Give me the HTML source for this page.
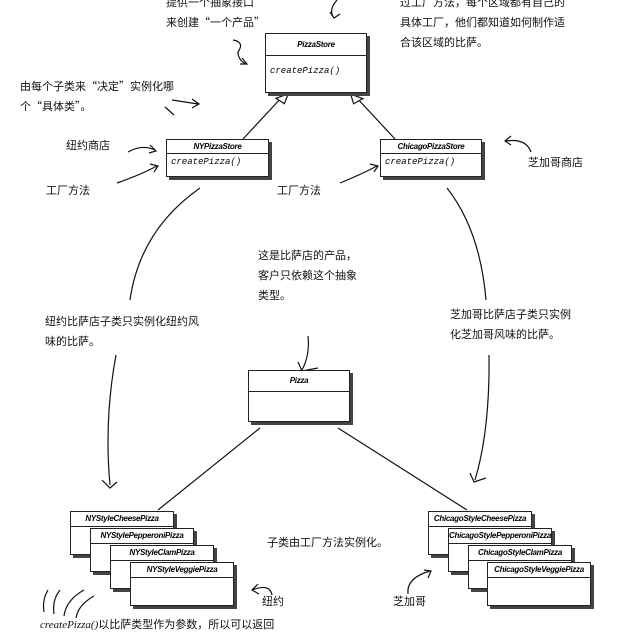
<!DOCTYPE html>
<html><head><meta charset="utf-8"><style>
body{margin:0;background:#fff;width:627px;height:633px;overflow:hidden;position:relative;font-family:"Liberation Sans","WenQuanYi Zen Hei",sans-serif}
.t{position:absolute;font-size:11px;line-height:20px;color:#111;font-family:"WenQuanYi Zen Hei","Noto Sans CJK SC",sans-serif;white-space:nowrap}
.b{position:absolute;background:#fff;border:1px solid #222;box-shadow:3px 3px 0 #444}
.h{border-bottom:1px solid #222;font:bold italic 8px "Liberation Sans",sans-serif;text-align:center;letter-spacing:-0.3px}
.m{font:italic 9px "Liberation Mono",monospace;padding:3px 4px}
</style></head><body>
<svg width="627" height="633" style="position:absolute;left:0;top:0" fill="none" stroke="#111" stroke-width="1.2">
<line x1="243" y1="139" x2="283" y2="96"/><line x1="395" y1="139" x2="355" y2="96"/>
<polygon points="277,96 290,96 283,104" fill="#fff" transform="rotate(-20 283 100)"/>
<polygon points="349,96 362,96 355,104" fill="#fff" transform="rotate(20 355 100)"/>
<line x1="158" y1="510" x2="260" y2="428"/><line x1="467" y1="510" x2="338" y2="428"/>
<path d="M200,188 Q140,230 130,300"/><path d="M116,355 Q104,420 110,485 M102,480 L110,488 L117,482"/>
<path d="M447,188 Q480,230 486,300"/><path d="M489,355 Q490,430 475,480 M470,473 L474,482 L486,478"/>
<path d="M233,40 Q245,42 238,52 Q238,60 246,64 M242,58 L247,64 L240,64"/>
<path d="M337,0 Q328,10 334,18 M330,12 L334,18 L340,14"/>
<path d="M172,100 L198,104 M192,99 L199,104 L192,108 M165,107 L174,115"/>
<path d="M128,152 Q142,144 155,150 M150,145 L156,151 L149,153"/>
<path d="M117,183 Q140,175 157,166 M150,164 L158,166 L154,172"/>
<path d="M340,183 Q360,175 377,166 M370,164 L378,166 L374,172"/>
<path d="M531,152 Q526,138 506,141 M511,136 L505,141 L511,145"/>
<path d="M308,336 Q310,355 302,370 M298,362 L302,371 L318,368"/>
<path d="M272,595 Q270,583 252,590 M258,584 L252,590 L259,594"/>
<path d="M408,594 Q406,578 430,571 M424,570 L431,571 L428,578"/>
<path d="M44,612 Q42,600 48,590 M54,614 Q52,600 60,590 M64,616 Q66,600 84,590 M76,618 Q78,605 94,596"/>
</svg>
<div class="b" style="left:265px;top:33px;width:100px;height:58px"><div class="h" style="height:21px;line-height:21px">PizzaStore</div><div class="m" style="padding-top:10px">createPizza()</div></div>
<div class="b" style="left:166px;top:139px;width:101px;height:36px"><div class="h" style="height:13px;line-height:13px">NYPizzaStore</div><div class="m">createPizza()</div></div>
<div class="b" style="left:380px;top:139px;width:100px;height:36px"><div class="h" style="height:13px;line-height:13px">ChicagoPizzaStore</div><div class="m">createPizza()</div></div>
<div class="b" style="left:248px;top:370px;width:100px;height:50px"><div class="h" style="height:20px;line-height:20px">Pizza</div></div>
<div class="b" style="left:70px;top:511px;width:102px;height:42px"><div class="h" style="height:14px;line-height:14px">NYStyleCheesePizza</div></div>
<div class="b" style="left:90px;top:528px;width:102px;height:42px"><div class="h" style="height:14px;line-height:14px">NYStylePepperoniPizza</div></div>
<div class="b" style="left:110px;top:545px;width:102px;height:42px"><div class="h" style="height:14px;line-height:14px">NYStyleClamPizza</div></div>
<div class="b" style="left:130px;top:562px;width:102px;height:42px"><div class="h" style="height:14px;line-height:14px">NYStyleVeggiePizza</div></div>
<div class="b" style="left:428px;top:511px;width:102px;height:42px"><div class="h" style="height:14px;line-height:14px">ChicagoStyleCheesePizza</div></div>
<div class="b" style="left:448px;top:528px;width:102px;height:42px"><div class="h" style="height:14px;line-height:14px">ChicagoStylePepperoniPizza</div></div>
<div class="b" style="left:468px;top:545px;width:102px;height:42px"><div class="h" style="height:14px;line-height:14px">ChicagoStyleClamPizza</div></div>
<div class="b" style="left:487px;top:562px;width:102px;height:42px"><div class="h" style="height:14px;line-height:14px">ChicagoStyleVeggiePizza</div></div>
<div class="t" style="left:166px;top:-8px">提供一个抽象接口<br>来创建“一个产品”</div>
<div class="t" style="left:400px;top:-8px">过工厂方法，每个区域都有自己的<br>具体工厂，他们都知道如何制作适<br>合该区域的比萨。</div>
<div class="t" style="left:20px;top:76px">由每个子类来“决定”实例化哪<br>个“具体类”。</div>
<div class="t" style="left:66px;top:135px">纽约商店</div>
<div class="t" style="left:46px;top:180px">工厂方法</div>
<div class="t" style="left:277px;top:180px">工厂方法</div>
<div class="t" style="left:528px;top:152px">芝加哥商店</div>
<div class="t" style="left:258px;top:245px">这是比萨店的产品，<br>客户只依赖这个抽象<br>类型。</div>
<div class="t" style="left:45px;top:311px">纽约比萨店子类只实例化纽约风<br>味的比萨。</div>
<div class="t" style="left:450px;top:304px">芝加哥比萨店子类只实例<br>化芝加哥风味的比萨。</div>
<div class="t" style="left:267px;top:532px">子类由工厂方法实例化。</div>
<div class="t" style="left:262px;top:591px">纽约</div>
<div class="t" style="left:393px;top:591px">芝加哥</div>
<div class="t" style="left:40px;top:614px"><i style="font-family:'Liberation Serif',serif">createPizza()</i>以比萨类型作为参数，所以可以返回</div>
</body></html>
